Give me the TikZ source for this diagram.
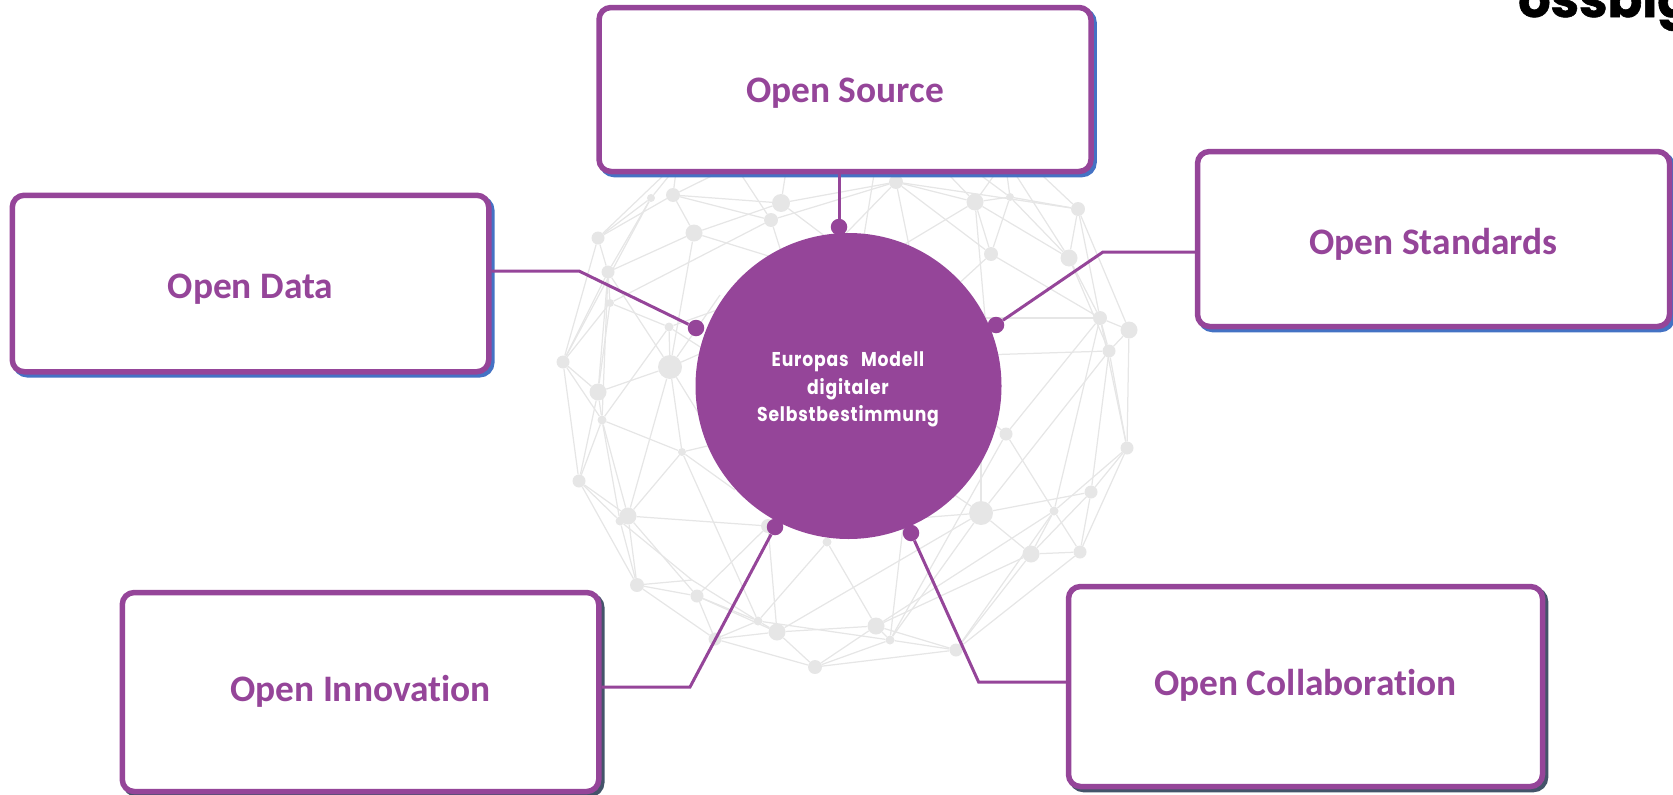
\documentclass[tikz,border=0pt]{standalone}
\usepackage{fontspec}
\usetikzlibrary{shadows}
\setmainfont[Ligatures=NoCommon]{Carlito}
\newfontfamily\hubfont[FakeStretch=0.86,LetterSpace=4]{Poppins}
\newfontfamily\logofont[FakeBold=1.2]{Poppins}
\definecolor{brand}{HTML}{954599}
\definecolor{shadowblue}{HTML}{4472C4}
\definecolor{shadowslate}{HTML}{44546A}
\definecolor{webgrey}{HTML}{E6E6E6}
\newcommand{\cardtext}[2]{\raisebox{-#1pt}[0pt][0pt]{#2}}
\tikzset{
  webdot/.style={circle,fill=webgrey,draw=none,inner sep=0pt},
  webline/.style={draw=webgrey,line width=1.25pt},
  card/.style={draw=brand,line width=5.5pt,fill=white,rounded corners=12pt,inner sep=0pt,
    text=brand,font=\fontsize{37.4}{44}\selectfont\bfseries},
  blueshadow/.style={drop shadow={shadow xshift=3pt,shadow yshift=-3pt,fill=shadowblue,draw=shadowblue,line width=5.5pt,opacity=1}},
  slateshadow/.style={drop shadow={shadow xshift=3pt,shadow yshift=-3pt,fill=shadowslate,draw=shadowslate,line width=5.5pt,opacity=1}},
  link/.style={draw=brand,line width=3pt,line join=miter},
  pin/.style={circle,fill=brand,draw=none,minimum size=16.5pt,inner sep=0pt},
}
\begin{document}
\begin{tikzpicture}[x=1pt,y=-1pt]
\useasboundingbox (0,0) rectangle (1673,795);
% network nodes
\foreach \n/\x/\y/\d in {
 a/651/198/8,b/673/195/14,c/781/203/18,d/771/220/14,e/694/233/17,f/598/238/13,g/608/272/13,
 h/610/303/8,i/669/327/9,j/563/362/13,k/670/367/24,l/598/392/17,m/602/420/9,n/682/452/8,
 o/579/481/13,p/628/516/17,q/620/521/9,s1/768/526/14,r/896/182/14,s/975/202/17,t/1010/197/8,
 u/1078/209/14,v/991/254/14,w/1069/258/17,x/1100/318/14,y/1129/330/17,z/1109/351/13,
 aa/1006/434/13,bb/1127/448/13,cc/1091/492/13,dd/1054/511/9,ee/981/513/24,pp/1031/554/17,
 qq/1080/552/13,ff/827/542/9,gg/637/585/14,hh/697/596/13,ii/758/621/9,jj/777/632/17,
 kk/715/639/13,ll/876/626/17,mm/890/640/9,nn/956/650/13,oo/815/667/14}
 {\node[webdot,minimum size=\d pt] (\n) at (\x,\y) {};}
% end points hidden behind the boxes and the disc
\foreach \n/\x/\y in {
 Ha/690/150,Hb/680/140,Hc/748/158,Hd/725/150,He/790/145,Hf/878/150,Hg/1005/160,Hh/1000/150,
 Hi/1010/145,Hj/925/150,Hk/960/160,
 Ca/830/240,Cb/790/280,Cc/830/275,Cd/915/275,Ce/820/260,Cf/870/265,Cg/987/340,Ch/930/310,
 Ci/950/318,Cj/950/356,Ck/960/395,Cm/981/440,Cn/940/485,Co/905/519,Cq/905/510,Cr/720/345,
 Cs/715/440,Ct/730/366,Cu/720/309,Cv/720/295,Cw/720/443,Cx/735/490,Cy/860/260,J/692/580}
 {\coordinate (\n) at (\x,\y);}
% network edges
\foreach \p/\q in {
 f/a,f/b,f/g,f/j,f/Ha,a/Ha,a/g,a/j,b/Hb,b/Hc,b/c,b/d,b/e,e/g,e/c,e/k,e/Cc,d/Hd,d/h,d/Cb,d/r,c/He,c/r,c/Ca,
 g/k,g/j,g/l,g/m,h/j,h/i,h/l,h/g,i/k,i/m,i/Ct,i/Cu,k/Cv,k/Cr,k/Cs,k/l,k/p,k/n,j/l,j/m,j/o,l/m,l/o,m/o,m/p,m/n,m/q,
 n/p,n/ii,n/Cw,n/Cx,o/p,o/q,o/gg,p/s1,p/gg,q/gg,p/hh,q/J,J/ii,gg/J,hh/kk,gg/hh,gg/kk,hh/ii,hh/jj,kk/ii,kk/jj,kk/oo,
 s1/hh,s1/jj,ff/ii,ff/ll,ii/jj,ii/mm,jj/ll,jj/oo,jj/ee,oo/ll,oo/mm,oo/nn,ll/mm,ll/nn,mm/nn,ll/pp,ll/dd,mm/ee,mm/aa,mm/Cq,
 nn/pp,nn/qq,nn/dd,r/s,r/v,r/u,r/Cd,r/Ce,Hf/Cy,s/t,s/w,s/Cf,s/Cg,s/Hg,s/Hj,t/u,t/v,t/w,t/Hg,t/Hk,v/x,v/Ch,v/s,
 u/w,u/x,u/y,u/Hi,w/Hh,w/x,w/z,x/y,x/z,y/z,y/bb,x/Ci,z/Cj,x/aa,z/ee,x/dd,z/cc,z/bb,x/bb,aa/dd,aa/Ck,
 ee/Cm,ee/Cn,ee/Co,ee/cc,ee/pp,dd/pp,dd/qq,dd/bb,cc/bb,cc/pp,cc/qq,bb/qq,pp/qq}
 {\draw[webline] (\p) -- (\q);}
% central disc
\node[circle,fill=brand,draw=none,minimum size=306pt,inner sep=0pt] (hub) at (848.5,386) {};
\node[text=white,align=center,inner sep=0pt,font=\hubfont\fontsize{20}{27.5}\selectfont\bfseries]
      (hubText) at (848,389.5) {Europas\hspace{8pt} Modell\\digitaler\\Selbstbestimmung};
% boxes
\node[card,blueshadow,minimum width=492pt,minimum height=164pt] (srcBox) at (845,89.5) {\raisebox{0pt}{\cardtext{12.7}{Open Source}}};
\node[card,blueshadow,minimum width=476.5pt,minimum height=176.5pt] (dataBox) at (250.5,283.5) {\cardtext{14.7}{Open Data}};
\node[card,blueshadow,minimum width=472pt,minimum height=175pt] (stdBox) at (1433.5,239) {\cardtext{15.5}{Open Standards}};
\node[card,slateshadow,minimum width=476.5pt,minimum height=199pt] (innoBox) at (360.5,692) {\cardtext{9}{Open Innovation}};
\node[card,slateshadow,minimum width=474pt,minimum height=200pt] (collBox) at (1305.5,686.5) {\cardtext{8.5}{Open Collaboration}};
% connector pins
\node[pin] (pinS) at (839,227) {};
\node[pin] (pinD) at (696,328) {};
\node[pin] (pinT) at (996,325) {};
\node[pin] (pinI) at (775,527) {};
\node[pin] (pinC) at (911,533) {};
\coordinate (kD) at (579,271);
\coordinate (kT) at (1103,252);
\coordinate (kI) at (690,687);
\coordinate (kC) at (978.6,682);
\draw[link] (pinS) -- (pinS |- srcBox.south);
\draw[link] (pinD) -- (kD) -- (kD -| dataBox.east);
\draw[link] (pinT) -- (kT) -- (kT -| stdBox.west);
\draw[link] (pinI) -- (kI) -- (kI -| innoBox.east);
\draw[link] (pinC) -- (kC) -- (kC -| collBox.west);
% logo, cut off by the top edge
\node[anchor=base west,inner sep=0pt,text=black,font=\logofont\fontsize{51}{51}\selectfont\bfseries] (logo) at (1518,17) {ossbig};
\end{tikzpicture}
\end{document}
